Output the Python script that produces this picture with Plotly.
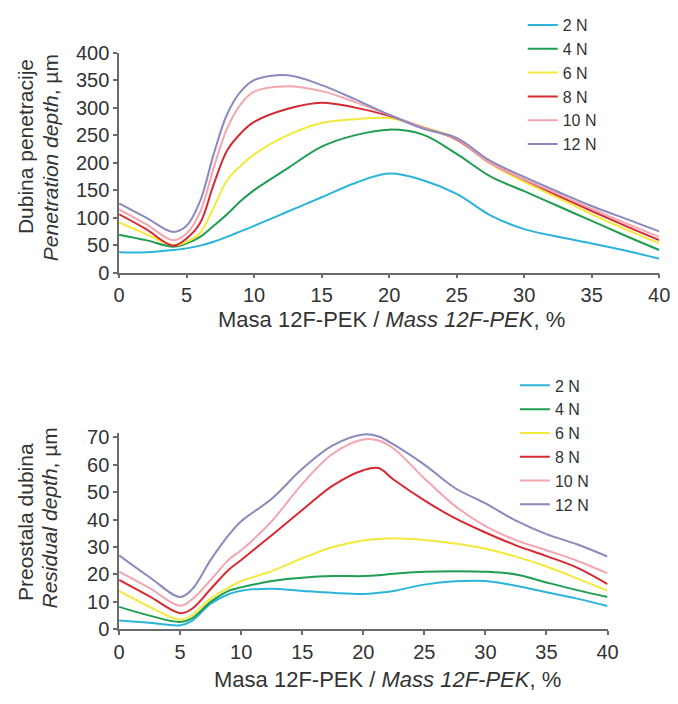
import plotly.graph_objects as go

# ---------------- data ----------------
loads = ["2 N", "4 N", "6 N", "8 N", "10 N", "12 N"]
colors = ["#2cb3da", "#1f9d52", "#f3e83c", "#d62a33", "#f3a5b0", "#8b89bd"]

# Penetration depth, µm (top chart)
x_top = [0, 2, 4, 5, 6, 7, 8, 9, 10, 12.5, 15, 17.5, 20, 22.5, 25, 27.5, 30, 32.5, 35, 37.5, 40]
pen_2N  = [37, 37, 41, 44, 49, 56, 65, 75, 85, 111, 137, 163, 180, 168, 143, 104, 79, 65, 53, 40, 25]
pen_4N  = [69, 59, 47, 53, 65, 85, 106, 130, 150, 190, 229, 250, 260, 251, 216, 175, 148, 121, 94, 67, 41]
pen_6N  = [91, 70, 50, 56, 72, 118, 168, 194, 215, 250, 272, 279, 281, 265, 244, 198, 165, 136, 106, 79, 53]
pen_8N  = [106, 79, 49, 62, 90, 160, 222, 253, 274, 298, 309, 300, 285, 264, 242, 199, 169, 140, 112, 85, 59]
pen_10N = [115, 88, 59, 71, 110, 190, 262, 306, 329, 339, 330, 310, 287, 264, 243, 199, 170, 143, 116, 90, 65]
pen_12N = [126, 100, 74, 85, 130, 215, 288, 329, 350, 359, 341, 315, 287, 262, 245, 203, 174, 147, 121, 98, 75]

# Residual depth, µm (bottom chart)
x_bot = [0, 2.5, 5, 6, 7.5, 9, 10, 12.5, 15, 17.5, 20, 21.25, 22.5, 25, 27.5, 30, 32.5, 35, 37.5, 40]
res_2N  = [3.2, 2.4, 1.5, 3.2, 9.4, 12.9, 14.1, 14.8, 14.0, 13.3, 12.9, 13.3, 14.0, 16.3, 17.5, 17.6, 15.9, 13.5, 11.2, 8.5]
res_4N  = [8.2, 5.0, 2.7, 4.1, 10.0, 14.1, 15.3, 17.6, 18.8, 19.4, 19.4, 19.7, 20.3, 21.0, 21.2, 21.0, 20.0, 17.1, 14.3, 11.8]
res_6N  = [14.0, 8.2, 3.5, 5.3, 11.2, 15.3, 17.6, 21.2, 25.9, 30.0, 32.4, 32.9, 33.2, 32.6, 31.3, 29.4, 26.5, 22.9, 18.6, 14.1]
res_8N  = [18.0, 12.0, 5.9, 7.6, 14.7, 21.8, 25.3, 34.3, 43.5, 52.4, 58.0, 58.8, 54.5, 47.0, 40.5, 35.3, 30.6, 26.7, 22.5, 16.5]
res_10N = [21.0, 15.0, 8.6, 11.0, 18.0, 25.5, 28.8, 39.4, 53.0, 64.0, 69.2, 68.8, 65.8, 55.0, 45.0, 37.6, 32.5, 28.8, 25.0, 20.4]
res_12N = [27.0, 19.0, 11.8, 14.7, 25.3, 34.5, 39.4, 47.6, 58.5, 67.0, 71.0, 70.3, 67.3, 60.0, 51.5, 45.9, 39.6, 34.7, 31.0, 26.5]

x_ticks = [0, 5, 10, 15, 20, 25, 30, 35, 40]
pen_ticks = [0, 50, 100, 150, 200, 250, 300, 350, 400]
res_ticks = [0, 10, 20, 30, 40, 50, 60, 70]

top_series = [pen_2N, pen_4N, pen_6N, pen_8N, pen_10N, pen_12N]
bot_series = [res_2N, res_4N, res_6N, res_8N, res_10N, res_12N]

# ---------------- figure ----------------
W, H = 678, 704
FONT = "Liberation Sans, Arial, Helvetica, sans-serif"
TXT = "#333333"
AX = "#6a6a6a"

fig = go.Figure()
for name, col, ys in zip(loads, colors, top_series):
    fig.add_trace(go.Scatter(x=x_top, y=ys, name=name, mode="lines",
                             line=dict(color=col, width=2, shape="spline", smoothing=1.0),
                             xaxis="x", yaxis="y", legend="legend"))
for name, col, ys in zip(loads, colors, bot_series):
    fig.add_trace(go.Scatter(x=x_bot, y=ys, name=name, mode="lines",
                             line=dict(color=col, width=2, shape="spline", smoothing=1.0),
                             xaxis="x2", yaxis="y2", legend="legend2"))

def px_x(p):
    return p / W

def px_y(p):
    return 1 - p / H

axis_common = dict(showline=True, linecolor=AX, linewidth=1.5, ticks="outside",
                   ticklen=4, tickwidth=1.5, tickcolor=AX, showgrid=False,
                   zeroline=False, tickfont=dict(size=20, color=TXT, family=FONT))

# bottom y axis: 0 at 638 px, 70 at 440 px; range slightly above 70 so the peak is not clipped
res_top = 71.6
res_px_per_unit = (638.3 - 440.0) / 70.0
res_dom_top = 638.3 - res_top * res_px_per_unit

fig.update_layout(
    width=W, height=H,
    margin=dict(l=0, r=0, t=0, b=0),
    paper_bgcolor="white", plot_bgcolor="white",
    font=dict(family=FONT, color=TXT),
    xaxis=dict(domain=[px_x(116), px_x(670)], range=[0, 40], tickvals=x_ticks,
               anchor="y", **axis_common),
    yaxis=dict(domain=[px_y(270), px_y(43)], range=[0, 400], tickvals=pen_ticks,
               anchor="x", **axis_common),
    xaxis2=dict(domain=[px_x(116), px_x(617)], range=[0, 40], tickvals=x_ticks,
                anchor="y2", **axis_common),
    yaxis2=dict(domain=[px_y(638.3), px_y(res_dom_top)], range=[0, res_top], tickvals=res_ticks,
                anchor="x2", **axis_common),
    legend=dict(x=px_x(530), y=px_y(-3), xanchor="left", yanchor="top",
                bgcolor="rgba(0,0,0,0)", borderwidth=0,
                font=dict(size=16, color=TXT, family=FONT)),
    legend2=dict(x=px_x(522), y=px_y(369), xanchor="left", yanchor="top",
                 bgcolor="rgba(0,0,0,0)", borderwidth=0,
                 font=dict(size=16, color=TXT, family=FONT)),
    showlegend=True,
)

ann_font = dict(size=21, color=TXT, family=FONT)
xt_font = dict(size=22, color=TXT, family=FONT)
annotations = [
    dict(text="Masa 12F-PEK / <i>Mass 12F-PEK</i>, %", x=px_x(395), y=px_y(318),
         xref="paper", yref="paper", showarrow=False, font=xt_font,
         xanchor="center", yanchor="middle"),
    dict(text="Masa 12F-PEK / <i>Mass 12F-PEK</i>, %", x=px_x(391), y=px_y(690),
         xref="paper", yref="paper", showarrow=False, font=xt_font,
         xanchor="center", yanchor="middle"),
    dict(text="Dubina penetracije", x=px_x(20), y=px_y(140), textangle=-90,
         xref="paper", yref="paper", showarrow=False, font=ann_font,
         xanchor="center", yanchor="middle"),
    dict(text="<i>Penetration depth</i>, µm", x=px_x(45), y=px_y(151), textangle=-90,
         xref="paper", yref="paper", showarrow=False, font=ann_font,
         xanchor="center", yanchor="middle"),
    dict(text="Preostala dubina", x=px_x(20), y=px_y(527), textangle=-90,
         xref="paper", yref="paper", showarrow=False, font=ann_font,
         xanchor="center", yanchor="middle"),
    dict(text="<i>Residual depth</i>, µm", x=px_x(45), y=px_y(523), textangle=-90,
         xref="paper", yref="paper", showarrow=False, font=ann_font,
         xanchor="center", yanchor="middle"),
]
fig.update_layout(annotations=annotations)

# remove the browser's default page margin so the figure starts at the window's corner
fig.write_html("out.html", config={"displayModeBar": False},
               post_script="document.body.style.margin='0px';")
